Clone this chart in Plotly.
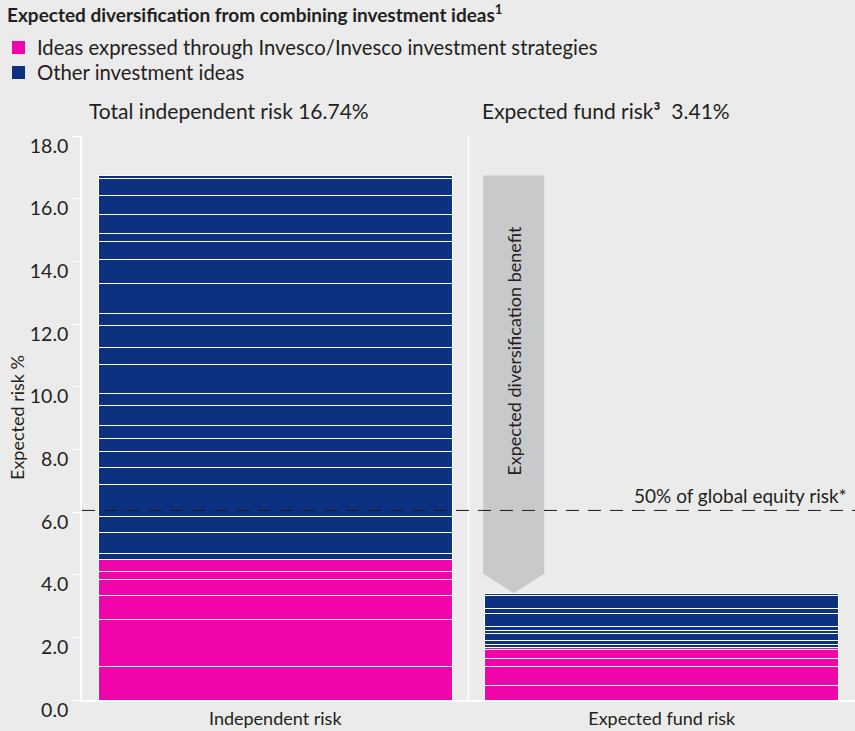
import plotly.graph_objects as go

# ---------------- data ----------------
categories = ["Independent risk", "Expected fund risk"]
series_names = ["Ideas expressed through Invesco/Invesco investment strategies", "Other investment ideas"]

# stacked segments (bottom -> top), expected risk %
pink_independent = [1.06, 1.50, 0.76, 0.54, 0.25, 0.36]
blue_independent = [0.22, 0.64, 0.52, 1.03, 0.54, 0.51, 0.42, 0.41, 0.64, 0.38, 0.94,
                    0.52, 0.72, 0.39, 0.95, 0.77, 0.56, 0.27, 0.58, 0.61, 0.55, 0.10]
pink_fund = [0.47, 0.61, 0.25, 0.27, 0.09]
blue_fund = [0.09, 0.13, 0.22, 0.10, 0.12, 0.41, 0.17, 0.39, 0.09]

total_independent_risk = 16.74
expected_fund_risk = 3.41
global_equity_half = 6.05

y_ticks = [0, 2, 4, 6, 8, 10, 12, 14, 16, 18]

# ---------------- style ----------------
PINK = "#EF05AA"
NAVY = "#0C3180"
BG = "#EBEBEB"
ARROW = "#C8C9CB"
TXT = "#231F20"
FONT = "Lato, 'Liberation Sans', sans-serif"

W, H = 855, 731
L, R, T, B = 82, 0, 136, 31
PW, PH = W - L - R, H - T - B


def px(xp):
    return (xp - L) / PW


def py(yp):
    return (H - B - yp) / PH


fig = go.Figure()

bar_w = 0.917
for xi, (pinks, blues) in enumerate([(pink_independent, blue_independent), (pink_fund, blue_fund)]):
    for v in pinks:
        fig.add_trace(go.Bar(x=[xi], y=[v], width=[bar_w], name=series_names[0],
                             marker=dict(color=PINK, line=dict(color="white", width=1)),
                             showlegend=False, hoverinfo="y"))
    for v in blues:
        fig.add_trace(go.Bar(x=[xi], y=[v], width=[bar_w], name=series_names[1],
                             marker=dict(color=NAVY, line=dict(color="white", width=1)),
                             showlegend=False, hoverinfo="y"))

# diversification arrow (from total independent risk down to expected fund risk)
ax0, ax1 = 0.538, 0.696
axm = (ax0 + ax1) / 2
shoulder = expected_fund_risk + 0.62
arrow_path = (f"M {ax0},{total_independent_risk} L {ax1},{total_independent_risk} "
              f"L {ax1},{shoulder} L {axm},{expected_fund_risk} L {ax0},{shoulder} Z")

shapes = [
    dict(type="path", path=arrow_path, xref="x", yref="y", fillcolor=ARROW,
         line=dict(width=0), layer="above"),
    dict(type="line", xref="x", yref="y", x0=0.5, x1=0.5, y0=0, y1=18,
         line=dict(color="white", width=1.5), layer="below"),
    dict(type="line", xref="paper", yref="y", x0=0, x1=1, y0=global_equity_half, y1=global_equity_half,
         line=dict(color="#1A1A1A", width=1, dash="13px,9px"), layer="above"),
    # legend swatches
    dict(type="rect", xref="paper", yref="paper", x0=px(12), x1=px(25), y0=py(54), y1=py(41),
         fillcolor=PINK, line=dict(width=0)),
    dict(type="rect", xref="paper", yref="paper", x0=px(12), x1=px(25), y0=py(79), y1=py(66),
         fillcolor=NAVY, line=dict(width=0)),
]

annotations = [
    dict(text="<b>Expected diversification from combining investment ideas<sup>1</sup></b>",
         x=px(5), y=py(14), xref="paper", yref="paper", xanchor="left", yanchor="middle",
         showarrow=False, font=dict(size=19, color=TXT, family=FONT)),
    dict(text=series_names[0], x=px(35), y=py(47), xref="paper", yref="paper",
         xanchor="left", yanchor="middle", showarrow=False,
         font=dict(size=20.3, color=TXT, family=FONT)),
    dict(text=series_names[1], x=px(35), y=py(72), xref="paper", yref="paper",
         xanchor="left", yanchor="middle", showarrow=False,
         font=dict(size=20.3, color=TXT, family=FONT)),
    dict(text=f"Total independent risk {total_independent_risk:.2f}%", x=px(87), y=py(111),
         xref="paper", yref="paper", xanchor="left", yanchor="middle", showarrow=False,
         font=dict(size=21, color=TXT, family=FONT)),
    dict(text=f"Expected fund risk<b>³</b>  {expected_fund_risk:.2f}%", x=px(480), y=py(111),
         xref="paper", yref="paper", xanchor="left", yanchor="middle", showarrow=False,
         font=dict(size=21, color=TXT, family=FONT)),
    dict(text="Expected risk %", x=px(17), y=py(418), xref="paper", yref="paper",
         xanchor="center", yanchor="middle", textangle=-90, showarrow=False,
         font=dict(size=18, color=TXT, family=FONT)),
    dict(text="Expected diversification benefit", x=axm, y=11.14, xref="x", yref="y",
         xanchor="center", yanchor="middle", textangle=-90, showarrow=False,
         font=dict(size=18, color=TXT, family=FONT)),
    dict(text="50% of global equity risk*", x=px(849), y=py(495), xref="paper", yref="paper",
         xanchor="right", yanchor="middle", showarrow=False,
         font=dict(size=19, color=TXT, family=FONT)),
]

fig.update_layout(
    width=W, height=H,
    margin=dict(l=L, r=R, t=T, b=B, pad=0),
    paper_bgcolor=BG, plot_bgcolor=BG,
    barmode="stack",
    showlegend=False,
    shapes=shapes,
    annotations=annotations,
    font=dict(family=FONT, color=TXT),
    xaxis=dict(range=[-0.5, 1.5], tickvals=[0, 1], ticktext=categories, showgrid=False,
               zeroline=False, showline=True, linecolor="white", linewidth=1.5,
               ticks="", ticklabelstandoff=2,
               tickfont=dict(size=18, color=TXT, family=FONT), fixedrange=True),
    yaxis=dict(range=[0, 18], tickvals=y_ticks, tickformat=".1f", showgrid=False,
               zeroline=False, showline=True, linecolor="white", linewidth=1.5,
               ticks="outside", ticklen=8, tickcolor="white", tickwidth=1,
               ticklabelshift=10,
               tickfont=dict(size=19.5, color=TXT, family=FONT), fixedrange=True),
)

fig.write_html("out.html", config={"displayModeBar": False},
               post_script="document.body.style.margin='0';document.body.style.overflow='hidden';")
